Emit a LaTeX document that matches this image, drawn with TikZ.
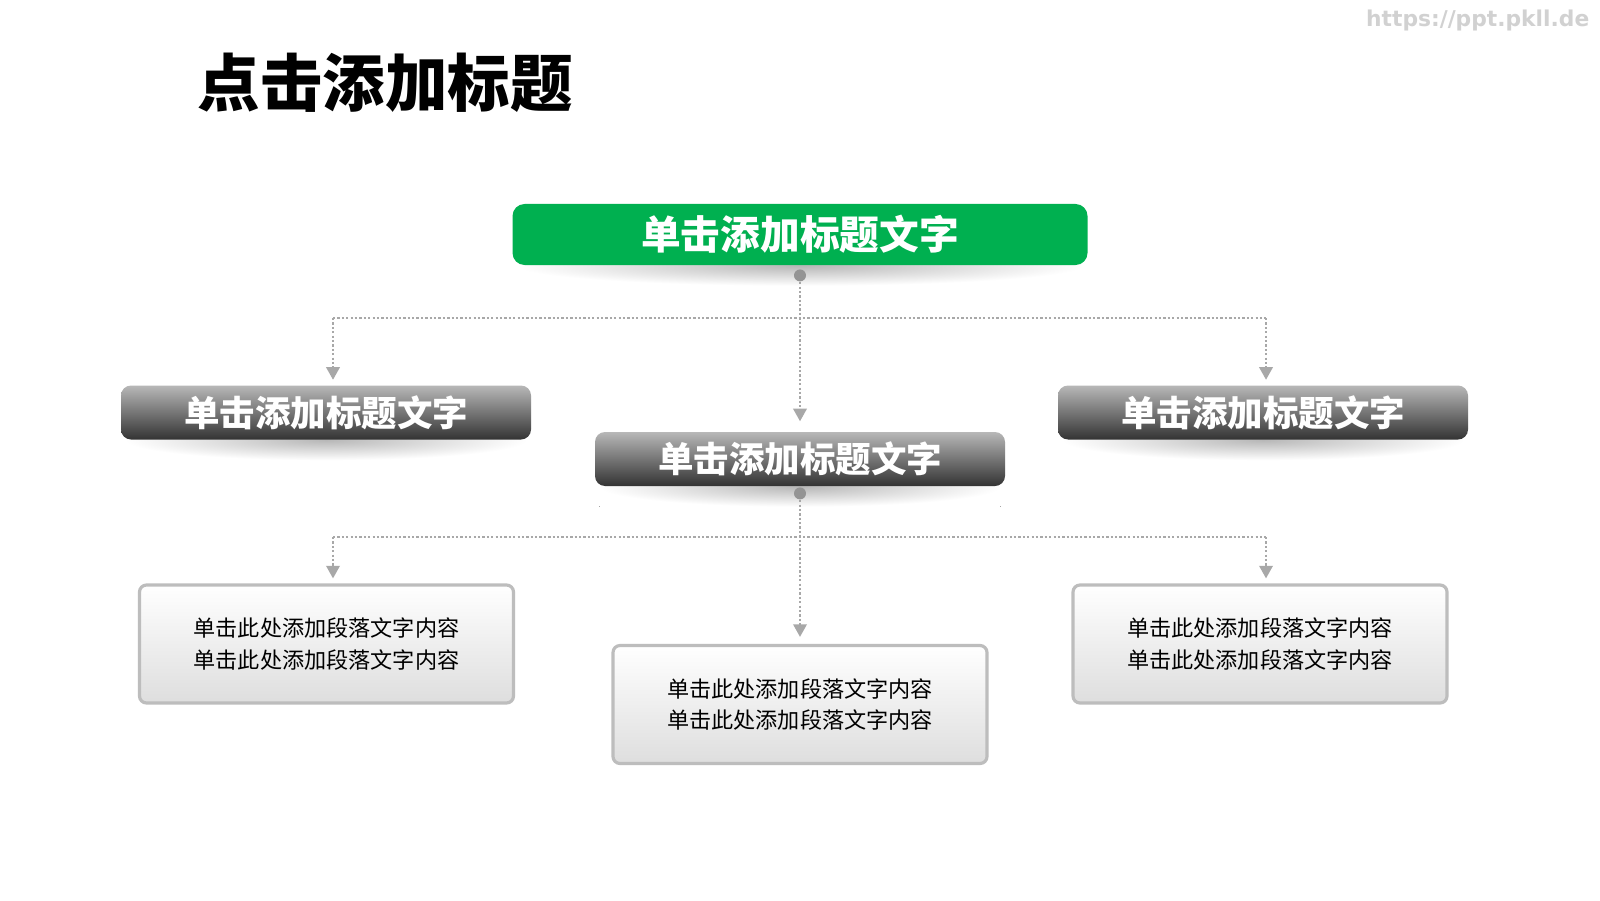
\documentclass[tikz,border=0pt]{standalone}
\usepackage{fontspec}
\newfontfamily\cjk{Noto Sans CJK SC}
\newfontfamily\webfont{DejaVu Sans}
\usetikzlibrary{arrows.meta, positioning, backgrounds}

\begin{document}
\begin{tikzpicture}
  \definecolor{headgreen}{HTML}{00B050}
  \definecolor{linegray}{HTML}{A8A8A8}
  \definecolor{boxedge}{HTML}{BDBDBD}
  \tikzset{
    headbox/.style={rounded corners=0.12cm, fill=headgreen, minimum width=5.75cm, minimum height=0.61cm,
      inner sep=0pt, text=white, font=\cjk\bfseries\fontsize{11.3}{13}\selectfont},
    subbox/.style={rounded corners=0.1cm, top color=black!28, middle color=black!58, bottom color=black!80,
      minimum width=4.1cm, minimum height=0.54cm, inner sep=0pt, text=white,
      font=\cjk\bfseries\fontsize{10.1}{12}\selectfont},
    textbox/.style={rounded corners=0.07cm, draw=boxedge, line width=0.9pt, top color=white, bottom color=black!13,
      minimum width=3.74cm, minimum height=1.18cm, inner sep=0pt, align=center,
      font=\cjk\fontsize{6.3}{9}\selectfont},
    knob/.style={circle, fill=black!42, minimum size=0.12cm, inner sep=0pt},
    link/.style={linegray, line width=0.7pt, dash pattern=on 0.65pt off 0.6pt},
    tip/.style={-{Triangle[width=3.8pt,length=3.6pt]}},
    shade/.style={inner color=black!28, outer color=white}
  }

  % page and title
  \useasboundingbox (0,0) rectangle (16,9);
  \node[anchor=west, inner sep=0pt, font=\cjk\bfseries\fontsize{17.8}{20}\selectfont] (title) at (1.97,8.175) {点击添加标题};
  \node[anchor=east, inner sep=0pt, text=black!18, font=\webfont\bfseries\fontsize{6.2}{7}\selectfont] (site) at (15.9,8.8) {https://ppt.pkll.de};

  % boxes
  \node[headbox] (head) at (8.0,6.655) {单击添加标题文字};
  \node[subbox] (subL) at (3.26,4.875) {单击添加标题文字};
  \node[subbox] (subM) at (8.0,4.41) {单击添加标题文字};
  \node[subbox] (subR) at (12.63,4.875) {单击添加标题文字};
  \node[textbox] (txtL) at (3.265,2.56) {单击此处添加段落文字内容\\单击此处添加段落文字内容};
  \node[textbox] (txtM) at (8.0,1.955) {单击此处添加段落文字内容\\单击此处添加段落文字内容};
  \node[textbox] (txtR) at (12.6,2.56) {单击此处添加段落文字内容\\单击此处添加段落文字内容};

  \node[knob, below=0.03cm of head] (dotA) {};
  \node[knob, below=0cm of subM] (dotB) {};

  % white page and soft shadows under the title bars
  \begin{pgfonlayer}{background}
    \fill[white] (0,0) rectangle (16,9);
    \foreach \bar in {head, subL, subM, subR}
      \fill[shade] ([xshift=0.05cm, yshift=-0.2cm]\bar.south west) rectangle ([xshift=-0.05cm, yshift=0.2cm]\bar.south east);
  \end{pgfonlayer}

  % upper branches
  \coordinate (forkA) at (8.0,5.82);
  \coordinate (forkAL) at (3.33,5.82);
  \coordinate (forkAR) at (12.66,5.82);
  \draw[link] (forkAL) -- (forkAR);
  \draw[link, tip, shorten >=0.1cm] (dotA) -- (subM);
  \draw[link, tip, shorten >=0.05cm] (forkAL) -- (forkAL |- subL.north);
  \draw[link, tip, shorten >=0.05cm] (forkAR) -- (forkAR |- subR.north);

  % lower branches
  \coordinate (forkB) at (8.0,3.63);
  \coordinate (forkBL) at (3.33,3.63);
  \coordinate (forkBR) at (12.66,3.63);
  \draw[link] (forkBL) -- (forkBR);
  \draw[link, tip, shorten >=0.07cm] (dotB) -- (txtM);
  \draw[link, tip, shorten >=0.05cm] (forkBL) -- (forkBL |- txtL.north);
  \draw[link, tip, shorten >=0.05cm] (forkBR) -- (forkBR |- txtR.north);
\end{tikzpicture}
\end{document}
